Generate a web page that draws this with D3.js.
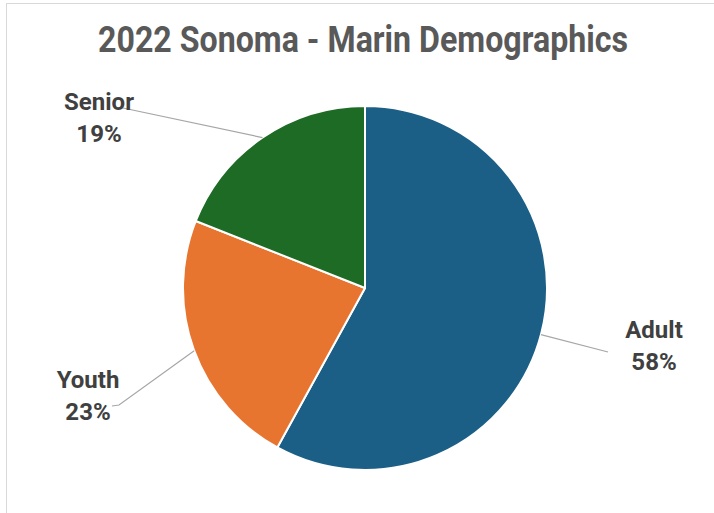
<!DOCTYPE html>
<html>
<head>
<meta charset="utf-8">
<script src="https://cdn.jsdelivr.net/npm/d3@7"></script>
<style>
  html, body { margin: 0; padding: 0; background: #fff; }
  svg { display: block; }
</style>
</head>
<body>
<svg id="chart" width="714" height="513"></svg>
<script>
// Population shares by age group
const categories = ["Adult", "Youth", "Senior"];
const shares = [58, 23, 19];
const colors = ["#1b5f86", "#e8752f", "#1d6b24"];
const title = "2022 Sonoma - Marin Demographics";

// Label centre x, first baseline y, and leader line start/elbow points
const labelPos = {
  Adult:  { x: 654, y: 338, line: [[608, 352]] },
  Youth:  { x: 88,  y: 388, line: [[112, 406], [119, 405]] },
  Senior: { x: 99,  y: 110, line: [[123, 108]] }
};
// angle (radians, clockwise from 12 o'clock) where each leader meets the pie
const edgeAngle = { Adult: 1.83, Youth: 4.36, Senior: 5.685 };

const W = 714, H = 513;
const cx = 365, cy = 288, R = 182;

const svg = d3.select("#chart");

// chart frame
svg.append("rect")
  .attr("x", 6.5).attr("y", 3.5)
  .attr("width", W + 10).attr("height", H + 10)
  .attr("fill", "#fff")
  .attr("stroke", "#d9d9d9").attr("stroke-width", 1);

svg.append("text")
  .attr("x", 363).attr("y", 52)
  .attr("text-anchor", "middle")
  .attr("font-family", "Roboto, 'Liberation Sans', sans-serif")
  .attr("font-weight", "bold")
  .attr("font-size", 36)
  .attr("textLength", 530)
  .attr("lengthAdjust", "spacingAndGlyphs")
  .attr("fill", "#595959")
  .text(title);

const data = categories.map((c, i) => ({ name: c, value: shares[i], color: colors[i] }));

const pie = d3.pie().value(d => d.value).sort(null);
const arc = d3.arc().innerRadius(0).outerRadius(R);
const arcs = pie(data);

const g = svg.append("g").attr("transform", `translate(${cx},${cy})`);

g.selectAll("path.slice")
  .data(arcs)
  .join("path")
  .attr("class", "slice")
  .attr("d", arc)
  .attr("fill", d => d.data.color)
  .attr("stroke", "#fff")
  .attr("stroke-width", 2)
  .attr("stroke-linejoin", "round");

// leader lines from the labels to the slice edge
arcs.forEach(a => {
  const name = a.data.name;
  const ang = edgeAngle[name];
  const ex = cx + R * Math.sin(ang);
  const ey = cy - R * Math.cos(ang);
  const pts = labelPos[name].line.concat([[ex, ey]]);
  svg.append("path")
    .attr("d", d3.line()(pts))
    .attr("fill", "none")
    .attr("stroke", "#a6a6a6")
    .attr("stroke-width", 1.2);
});

// labels: category name and percentage
arcs.forEach(a => {
  const name = a.data.name;
  const p = labelPos[name];
  const t = svg.append("text")
    .attr("text-anchor", "middle")
    .attr("font-family", "Roboto, 'Liberation Sans', sans-serif")
    .attr("font-weight", "bold")
    .attr("font-size", 24)
    .attr("fill", "#404040");
  t.append("tspan").attr("x", p.x).attr("y", p.y).text(name);
  t.append("tspan").attr("x", p.x).attr("y", p.y + 32).text(a.data.value + "%");
});
</script>
</body>
</html>
